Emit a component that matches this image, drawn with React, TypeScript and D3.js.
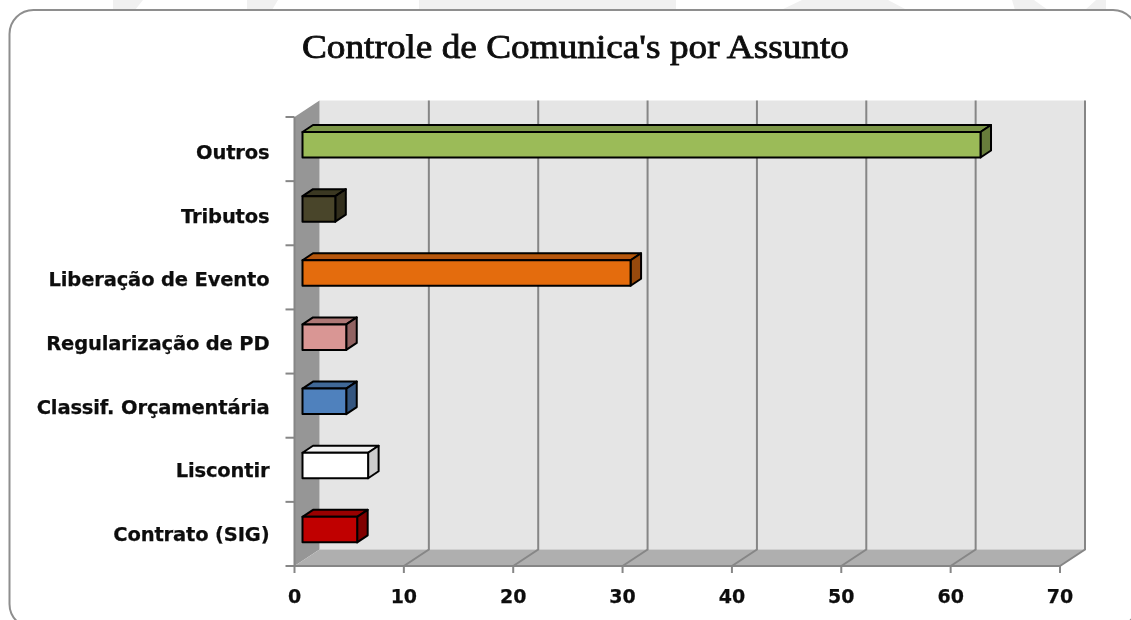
import React from "react";
import * as d3 from "d3";

const categories = ["Outros", "Tributos", "Liberação de Evento", "Regularização de PD", "Classif. Orçamentária", "Liscontir", "Contrato (SIG)"];
const values = [62, 3, 30, 4, 4, 6, 5];
const frontColors = ["#9BBB59", "#4A452A", "#E46C0A", "#D99694", "#4F81BD", "#FFFFFF", "#C00000"];
const topColors = ["#7C9647", "#3B3722", "#B65608", "#AE7876", "#3F6797", "#F2F2F2", "#990000"];
const sideColors = ["#677D3B", "#312E1C", "#974807", "#916462", "#345680", "#CCCCCC", "#800000"];
const xTicks = [0, 10, 20, 30, 40, 50, 60, 70];
const title = "Controle de Comunica's por Assunto";
const watermark = [
  "M113,0 L143,0 L135,10 L113,10 Z",
  "M247,0 L278,0 L272,10 L247,10 Z",
  "M419,0 L676,0 L676,10 L419,10 Z",
  "M802,0 L888,0 L907,10 L781,10 Z",
  "M1012,0 L1034,0 L1048,10 L1015,10 Z",
  "M1096,0 L1106,0 L1106,10 L1085,10 Z",
];

const W = 1131, H = 620;
const depthX = 25, depthY = 16.5;
const barDepthX = 10.5, barDepthY = 7;
const barOffset = 8;
const font = "'DejaVu Sans', sans-serif";
const gridColor = "#868686";

export default function App() {
  const x = d3.scaleLinear().domain([0, 70]).range([294.5, 1060]);
  const y = d3.scaleBand<string>().domain(categories).range([117, 566]);
  const labelY = d3.scalePoint<string>().domain(categories).range([159, 541]);
  const floorY = y.range()[1];
  const topY = y.range()[0];
  const barW = (v: number) => x(v) - x(0);

  return (
    <svg width={W} height={H} style={{ position: "fixed", left: 0, top: 0, background: "#fff" }}>
      <defs>
        <filter id="soft" x="-2%" y="-2%" width="104%" height="104%">
          <feGaussianBlur stdDeviation="0.45" />
        </filter>
      </defs>
      <g fill="#f0f0f0">{watermark.map((d, i) => <path key={i} d={d} />)}</g>
      <rect x={9.5} y={10} width={1127.5} height={618} rx={24} fill="#fff" stroke="#8e8e8e" strokeWidth={2} filter="url(#soft)" />

      <text x={302} y={58} fontFamily="'Liberation Serif', serif" fontSize={33} fontWeight={400} fill="#111"
        stroke="#111" strokeWidth={0.8} textLength={547} lengthAdjust="spacingAndGlyphs" filter="url(#soft)">{title}</text>

      <g filter="url(#soft)">
        {/* walls */}
        <rect x={x(0) + depthX} y={topY - depthY} width={x(70) - x(0)} height={floorY - topY} fill="#E5E5E5" />
        <path d={`M${x(0)},${topY} L${x(0) + depthX},${topY - depthY} V${floorY - depthY} L${x(0)},${floorY} Z`} fill="#969696" />
        <path d={`M${x(0)},${floorY} L${x(0) + depthX},${floorY - depthY} H${x(70) + depthX} L${x(70)},${floorY} Z`} fill="#AFAFAF" />

        {/* gridlines */}
        {xTicks.slice(1).map((t) => (
          <path key={t} d={`M${x(t)},${floorY} L${x(t) + depthX},${floorY - depthY} V${topY - depthY}`}
            fill="none" stroke={gridColor} strokeWidth={2} />
        ))}

        {/* axes */}
        <path d={`M${x(0)},${topY} V${floorY} H${x(70)}`} fill="none" stroke={gridColor} strokeWidth={2} />
        {xTicks.map((t) => (
          <line key={t} x1={x(t)} x2={x(t)} y1={floorY} y2={floorY + 7} stroke={gridColor} strokeWidth={2} />
        ))}
        {[...categories.map((c) => y(c)!), floorY].map((t, i) => (
          <line key={i} x1={x(0) - 9} x2={x(0)} y1={t} y2={t} stroke={gridColor} strokeWidth={2} />
        ))}

        {/* bars */}
        {categories.map((c, i) => {
          const x0 = x(0) + barOffset;
          const w = barW(values[i]);
          const y0 = y(c)! + 15;
          const h = 25.5;
          return (
            <g key={c} stroke="#000" strokeWidth={2} strokeLinejoin="round">
              <path d={`M${x0},${y0} l${barDepthX},${-barDepthY} h${w} l${-barDepthX},${barDepthY} Z`} fill={topColors[i]} />
              <path d={`M${x0 + w},${y0} l${barDepthX},${-barDepthY} v${h} l${-barDepthX},${barDepthY} Z`} fill={sideColors[i]} />
              <rect x={x0} y={y0} width={w} height={h} fill={frontColors[i]} />
            </g>
          );
        })}

        {/* labels */}
        {categories.map((c) => (
          <text key={c} x={269.5} y={labelY(c)!} textAnchor="end" fontFamily={font} fontWeight={700} fontSize={19.5}
            letterSpacing={-0.15} fill="#111" stroke="#111" strokeWidth={0.25}>{c}</text>
        ))}
        {xTicks.map((t) => (
          <text key={t} x={x(t)} y={603} textAnchor="middle" fontFamily={font} fontWeight={700} fontSize={19} fill="#111" stroke="#111" strokeWidth={0.25}>{t}</text>
        ))}
      </g>
    </svg>
  );
}
